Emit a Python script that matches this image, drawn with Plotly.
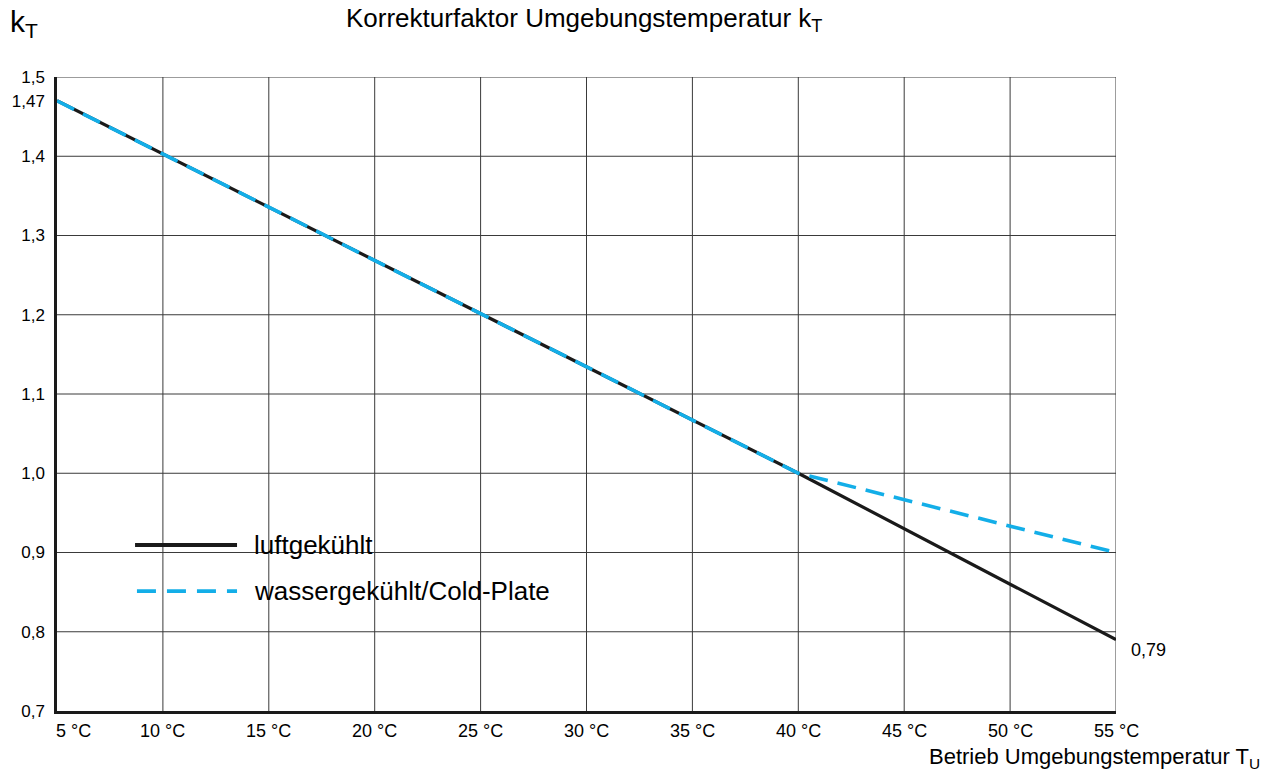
import plotly.graph_objects as go

temps = [5, 40, 55]
kt_air = [1.47, 1.00, 0.79]
kt_water = [1.47, 1.00, 0.90]
x_ticks = [5, 10, 15, 20, 25, 30, 35, 40, 45, 50, 55]
x_tick_labels = ["5 °C", "10 °C", "15 °C", "20 °C", "25 °C", "30 °C", "35 °C",
                 "40 °C", "45 °C", "50 °C", "55 °C"]
y_ticks = [0.7, 0.8, 0.9, 1.0, 1.1, 1.2, 1.3, 1.4, 1.47, 1.5]
y_tick_labels = ["0,7", "0,8", "0,9", "1,0", "1,1", "1,2", "1,3", "1,4", "1,47", "1,5"]
y_grid = [0.8, 0.9, 1.0, 1.1, 1.2, 1.3, 1.4, 1.5]
names = ["luftgekühlt", "wassergekühlt/Cold-Plate"]

FONT = "Liberation Sans, Arial, sans-serif"
BLACK = "#1a1a1a"
BLUE = "#13aee8"

fig = go.Figure()

# grid lines
for v in x_ticks[1:]:
    fig.add_shape(type="line", xref="x", yref="y", x0=v, x1=v, y0=0.7, y1=1.5,
                  line=dict(color="#3a3a3a", width=1), layer="below")
for v in y_grid:
    fig.add_shape(type="line", xref="x", yref="y", x0=5, x1=55, y0=v, y1=v,
                  line=dict(color="#3a3a3a", width=1), layer="below")

# legend background box (covers the grid)
fig.add_shape(type="rect", xref="paper", yref="paper", x0=0.0548, x1=0.486,
              y0=0.1467, y1=0.325, fillcolor="white", line=dict(width=0), layer="between")

fig.add_trace(go.Scatter(x=temps, y=kt_air, mode="lines", name=names[0],
                         line=dict(color=BLACK, width=3.2), showlegend=False))
fig.add_trace(go.Scatter(x=temps, y=kt_water, mode="lines", name=names[1],
                         line=dict(color=BLUE, width=3.6, dash="19px,10px"), showlegend=False))

# manual legend
fig.add_shape(type="line", xref="paper", yref="paper", x0=0.0737, x1=0.170, y0=0.2618, y1=0.2618,
              line=dict(color=BLACK, width=3.8))
fig.add_shape(type="line", xref="paper", yref="paper", x0=0.0755, x1=0.170, y0=0.189, y1=0.189,
              line=dict(color=BLUE, width=3.8, dash="19px,11px"))
fig.add_annotation(xref="paper", yref="paper", x=0.184, y=0.2618, text=names[0],
                   showarrow=False, xanchor="left", yanchor="middle",
                   font=dict(family=FONT, size=26, color="black"))
fig.add_annotation(xref="paper", yref="paper", x=0.184, y=0.189, text=names[1],
                   showarrow=False, xanchor="left", yanchor="middle",
                   font=dict(family=FONT, size=26, color="black"))

# x tick labels
for v, t in zip(x_ticks, x_tick_labels):
    fig.add_annotation(xref="x", yref="paper", x=v, y=0, yshift=-8,
                       xshift=-3 if v == 5 else 0, text=t,
                       showarrow=False, xanchor="left" if v == 5 else "center",
                       yanchor="top", font=dict(family=FONT, size=18, color="black"))

# end label
fig.add_annotation(xref="x", yref="y", x=55, y=kt_air[-1], text="0,79", showarrow=False,
                   xanchor="left", yanchor="middle", xshift=13, yshift=-10,
                   font=dict(family=FONT, size=18, color="black"))

# texts
fig.add_annotation(xref="paper", yref="paper", x=-0.046, y=1.084, text="k<sub>T</sub>",
                   showarrow=False, xanchor="left", yanchor="middle",
                   font=dict(family=FONT, size=30, color="black"))
fig.add_annotation(xref="paper", yref="paper", x=0.4976, y=1.09,
                   text="Korrekturfaktor Umgebungstemperatur k<sub>T</sub>",
                   showarrow=False, xanchor="center", yanchor="middle",
                   font=dict(family=FONT, size=26, color="black"))
fig.add_annotation(xref="paper", yref="paper", x=1.138, y=-0.074,
                   text="Betrieb Umgebungstemperatur T<sub>U</sub>",
                   showarrow=False, xanchor="right", yanchor="middle",
                   font=dict(family=FONT, size=22, color="black"))

fig.update_xaxes(range=[5, 55], showgrid=False, zeroline=False, showticklabels=False,
                 ticks="", showline=True, linecolor=BLACK, linewidth=2.5, fixedrange=True)
fig.update_yaxes(range=[0.7, 1.5], showgrid=False, zeroline=False, tickvals=y_ticks,
                 ticktext=y_tick_labels, ticks="", showline=True, linecolor=BLACK,
                 linewidth=2.5, tickfont=dict(family=FONT, size=17, color="black"),
                 ticklabelstandoff=6, automargin=False, fixedrange=True)

fig.update_layout(width=1272, height=773, margin=dict(l=57, r=156, t=77, b=62),
                  plot_bgcolor="white", paper_bgcolor="white", showlegend=False,
                  font=dict(family=FONT))

fig.write_html("out.html", config={"displayModeBar": False},
               post_script="document.body.style.margin='0px';")
